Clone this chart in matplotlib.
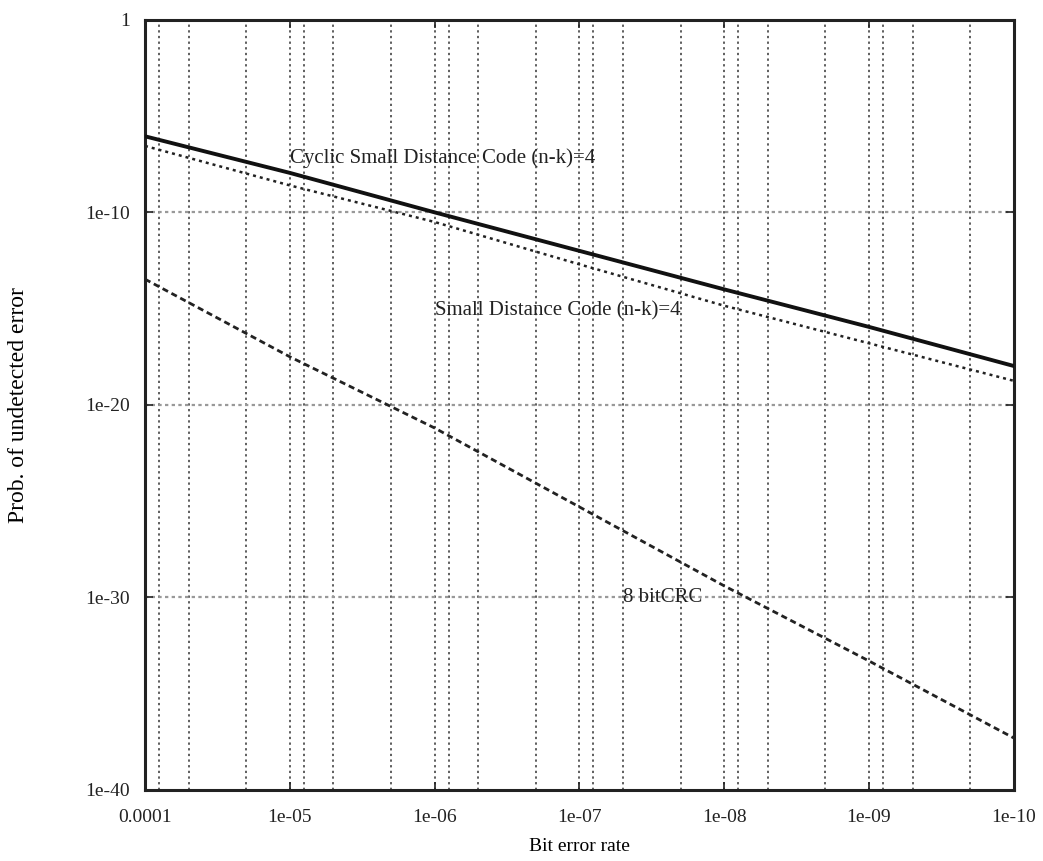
import matplotlib
matplotlib.use('Agg')
import matplotlib.pyplot as plt
import numpy as np

plt.rcParams['font.family'] = ['Liberation Serif', 'DejaVu Serif']

# Bit error rate at each decade
ber = [1e-4, 1e-5, 1e-6, 1e-7, 1e-8, 1e-9, 1e-10]
# log10 of probability of undetected error
cyclic_log = [-6.05, -7.95, -10.0, -12.0, -14.0, -15.95, -17.98]
small_log = [-6.55, -8.6, -10.5, -12.7, -14.85, -16.8, -18.75]
crc_log = [-13.47, -17.5, -21.2, -25.3, -29.4, -33.3, -37.3]

y_ticks = [1, 1e-10, 1e-20, 1e-30, 1e-40]
y_tick_labels = ['1', '1e-10', '1e-20', '1e-30', '1e-40']
x_tick_labels = ['0.0001', '1e-05', '1e-06', '1e-07', '1e-08', '1e-09', '1e-10']
grid_mult = [1, 2, 5, 8]

fig = plt.figure(figsize=(10.43, 8.61), dpi=100)
ax = fig.add_axes([0.139, 0.0825, 0.833, 0.8945])

# vertical grid lines
for e in range(-10, -3):
    for m in grid_mult:
        v = m * 10.0 ** e
        if 1e-10 < v < 1e-4:
            ax.axvline(v, color='#333333', lw=1.1, ls=(0, (1.5, 2.2)), zorder=1)
for v in y_ticks[1:-1]:
    ax.axhline(v, color='#999999', lw=1.6, ls=(0, (1.5, 1.5)), zorder=1)

ax.plot(ber, 10.0 ** np.array(cyclic_log), color='#111111', lw=2.8, zorder=3)
ax.plot(ber, 10.0 ** np.array(small_log), color='#222222', lw=1.8,
        ls=(0, (1.2, 1.6)), zorder=3)
ax.plot(ber, 10.0 ** np.array(crc_log), color='#222222', lw=2.0,
        ls=(0, (2.2, 1.4)), zorder=3)

ax.set_xscale('log')
ax.set_yscale('log')
ax.set_xlim(1e-4, 1e-10)
ax.set_ylim(1e-40, 1)
ax.set_xticks(ber)
ax.set_xticklabels(x_tick_labels)
ax.set_yticks(y_ticks)
ax.set_yticklabels(y_tick_labels)
ax.minorticks_off()
ax.tick_params(direction='in', length=6, width=1.2, labelsize=14,
               top=True, right=True, colors='#222222')
ax.tick_params(axis='y', pad=11)
ax.tick_params(axis='x', pad=14)
for s in ax.spines.values():
    s.set_linewidth(2.2)
    s.set_color('#222222')

ax.text(1.0e-5, 10.0 ** -7.2, 'Cyclic Small Distance Code (n-k)=4', fontsize=15,
        va='center', ha='left', color='#222222')
ax.text(1.0e-6, 10.0 ** -15.1, 'Small Distance Code (n-k)=4', fontsize=15,
        va='center', ha='left', color='#222222')
ax.text(5.0e-8, 10.0 ** -30.0, '8 bitCRC', fontsize=15,
        va='center', ha='left', color='#222222')

ax.set_xlabel('Bit error rate', fontsize=14, labelpad=8)
ax.set_ylabel('Prob. of undetected error', fontsize=17, labelpad=40)

fig.savefig('out.png', dpi=100)
